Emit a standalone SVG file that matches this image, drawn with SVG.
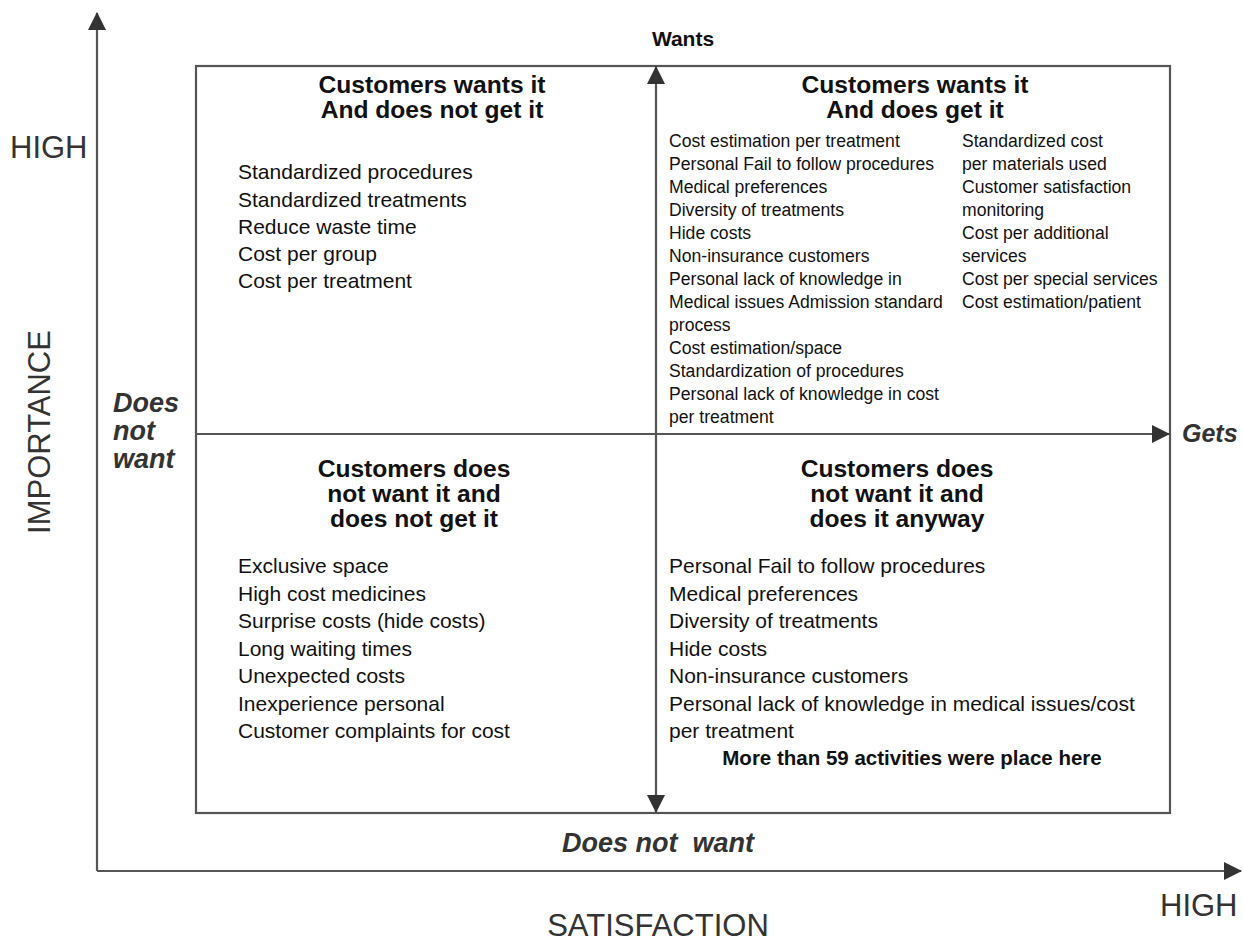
<svg xmlns="http://www.w3.org/2000/svg" width="1243" height="944" viewBox="0 0 1243 944">
  <style>
    text { font-family: "Liberation Sans", Arial, sans-serif; fill: #111; }
    .axis { fill: #333; font-size: 31px; }
    .head { font-size: 24.6px; font-weight: bold; text-anchor: middle; }
    .item { font-size: 21px; }
    .small { font-size: 17.6px; }
    .bi { font-weight: bold; font-style: italic; fill: #333; }
    .line { stroke: #555; stroke-width: 2.2; fill: none; }
  </style>
  <defs>
    <marker id="tri" markerUnits="userSpaceOnUse" markerWidth="18" markerHeight="18" refX="17" refY="9" orient="auto-start-reverse" viewBox="0 0 18 18">
      <path d="M0,0 L18,9 L0,18 z" fill="#333"/>
    </marker>
  </defs>

  <!-- axes and quadrant dividers -->
  <g id="connectors">
    <line class="line" x1="97" y1="871" x2="97" y2="13" marker-end="url(#tri)"/>
    <line class="line" x1="97" y1="871" x2="1241" y2="871" marker-end="url(#tri)"/>
    <rect class="line" x="196" y="66" width="974" height="747"/>
    <line class="line" x1="656" y1="67" x2="656" y2="812" marker-start="url(#tri)" marker-end="url(#tri)"/>
    <line class="line" x1="196" y1="434" x2="1169" y2="434" marker-end="url(#tri)"/>
  </g>

  <!-- axis labels -->
  <g id="axis-labels">
    <text class="axis" x="10" y="158">HIGH</text>
    <text class="axis" transform="translate(50,432) rotate(-90)" text-anchor="middle">IMPORTANCE</text>
    <text class="axis" x="658" y="936" text-anchor="middle">SATISFACTION</text>
    <text class="axis" x="1160" y="916">HIGH</text>
    <text x="683" y="46" text-anchor="middle" font-size="21" font-weight="bold">Wants</text>
    <text class="bi" x="1182" y="442" font-size="25">Gets</text>
    <text class="bi" x="658" y="852" font-size="27" text-anchor="middle" xml:space="preserve">Does not  want</text>
    <text class="bi" font-size="27">
      <tspan x="113" y="412">Does</tspan>
      <tspan x="113" y="440">not</tspan>
      <tspan x="113" y="468">want</tspan>
    </text>
  </g>

  <!-- top-left quadrant -->
  <g id="q-wants-not-get">
    <text class="head"><tspan x="432" y="93">Customers wants it</tspan><tspan x="432" y="118">And does not get it</tspan></text>
    <text class="item">
      <tspan x="238" y="179">Standardized procedures</tspan>
      <tspan x="238" y="206.5">Standardized treatments</tspan>
      <tspan x="238" y="234">Reduce waste time</tspan>
      <tspan x="238" y="261">Cost per group</tspan>
      <tspan x="238" y="288">Cost per treatment</tspan>
    </text>
  </g>

  <!-- top-right quadrant -->
  <g id="q-wants-gets">
    <text class="head"><tspan x="915" y="93">Customers wants it</tspan><tspan x="915" y="118">And does get it</tspan></text>
    <text class="small">
      <tspan x="669" y="147">Cost estimation per treatment</tspan>
      <tspan x="669" y="170">Personal Fail to follow procedures</tspan>
      <tspan x="669" y="193">Medical preferences</tspan>
      <tspan x="669" y="216">Diversity of treatments</tspan>
      <tspan x="669" y="239">Hide costs</tspan>
      <tspan x="669" y="262">Non-insurance customers</tspan>
      <tspan x="669" y="285">Personal lack of knowledge in</tspan>
      <tspan x="669" y="308">Medical issues Admission standard</tspan>
      <tspan x="669" y="331">process</tspan>
      <tspan x="669" y="354">Cost estimation/space</tspan>
      <tspan x="669" y="377">Standardization of procedures</tspan>
      <tspan x="669" y="400">Personal lack of knowledge in cost</tspan>
      <tspan x="669" y="423">per treatment</tspan>
    </text>
    <text class="small">
      <tspan x="962" y="147">Standardized cost</tspan>
      <tspan x="962" y="170">per materials used</tspan>
      <tspan x="962" y="193">Customer satisfaction</tspan>
      <tspan x="962" y="216">monitoring</tspan>
      <tspan x="962" y="239">Cost per additional</tspan>
      <tspan x="962" y="262">services</tspan>
      <tspan x="962" y="285">Cost per special services</tspan>
      <tspan x="962" y="308">Cost estimation/patient</tspan>
    </text>
  </g>

  <!-- bottom-left quadrant -->
  <g id="q-not-want-not-get">
    <text class="head"><tspan x="414" y="477">Customers does</tspan><tspan x="414" y="502">not want it and</tspan><tspan x="414" y="527">does not get it</tspan></text>
    <text class="item">
      <tspan x="238" y="573">Exclusive space</tspan>
      <tspan x="238" y="600.5">High cost medicines</tspan>
      <tspan x="238" y="628">Surprise costs (hide costs)</tspan>
      <tspan x="238" y="655.5">Long waiting times</tspan>
      <tspan x="238" y="683">Unexpected costs</tspan>
      <tspan x="238" y="710.5">Inexperience personal</tspan>
      <tspan x="238" y="738">Customer complaints for cost</tspan>
    </text>
  </g>

  <!-- bottom-right quadrant -->
  <g id="q-not-want-gets">
    <text class="head"><tspan x="897" y="477">Customers does</tspan><tspan x="897" y="502">not want it and</tspan><tspan x="897" y="527">does it anyway</tspan></text>
    <text class="item">
      <tspan x="669" y="573">Personal Fail to follow procedures</tspan>
      <tspan x="669" y="600.5">Medical preferences</tspan>
      <tspan x="669" y="628">Diversity of treatments</tspan>
      <tspan x="669" y="655.5">Hide costs</tspan>
      <tspan x="669" y="683">Non-insurance customers</tspan>
      <tspan x="669" y="710.5">Personal lack of knowledge in medical issues/cost</tspan>
      <tspan x="669" y="738">per treatment</tspan>
    </text>
    <text x="912" y="765" text-anchor="middle" font-size="20.5" font-weight="bold">More than 59 activities were place here</text>
  </g>
</svg>
